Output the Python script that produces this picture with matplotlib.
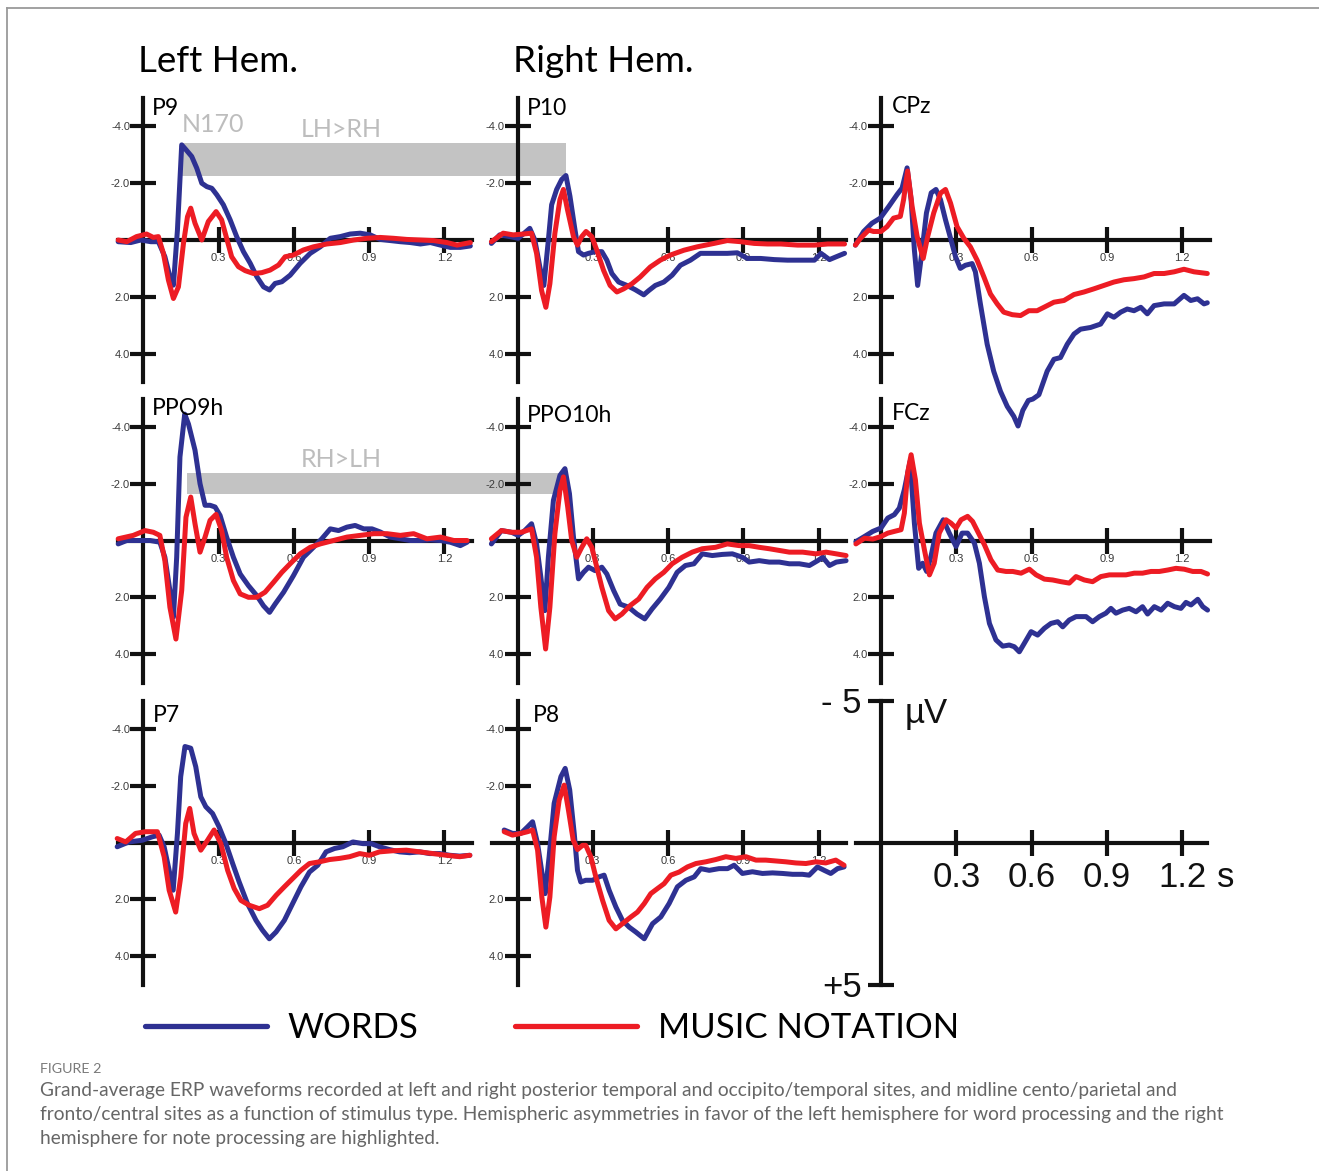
import numpy as np
import matplotlib.pyplot as plt
from matplotlib.patches import Rectangle
from matplotlib.lines import Line2D

# grand-average ERPs, (time s, amplitude uV) -- negative plotted upward
p9_words = [(-0.10, 0.06), (-0.05, 0.09), (-0.01, 0.0), (0.03, 0.06), (0.06, 0.06), (0.086, 0.59), (0.106, 1.29),
            (0.12, 1.59), (0.136, -0.35), (0.153, -3.35), (0.17, -3.18), (0.193, -2.94), (0.213, -2.53), (0.233, -2.0),
            (0.253, -1.88), (0.273, -1.82), (0.293, -1.59), (0.319, -1.24), (0.346, -0.71), (0.372, -0.12), (0.399, 0.41),
            (0.426, 0.82), (0.452, 1.29), (0.479, 1.65), (0.503, 1.76), (0.525, 1.53), (0.552, 1.47), (0.585, 1.24),
            (0.625, 0.82), (0.665, 0.47), (0.705, 0.24), (0.745, -0.06), (0.785, -0.12), (0.824, -0.21), (0.864, -0.24),
            (0.904, -0.18), (0.944, -0.02), (0.984, 0.02), (1.024, 0.06), (1.064, 0.09), (1.104, 0.14), (1.144, 0.09),
            (1.184, 0.18), (1.223, 0.26), (1.263, 0.26), (1.303, 0.21)]
p9_music = [(-0.10, 0.0), (-0.066, 0.06), (-0.027, -0.12), (0.013, -0.21), (0.04, -0.09), (0.06, -0.12), (0.08, 0.47),
            (0.10, 1.41), (0.12, 2.06), (0.14, 1.65), (0.16, 0.12), (0.176, -0.82), (0.189, -1.12), (0.206, -0.59),
            (0.233, 0.0), (0.259, -0.65), (0.29, -1.0), (0.312, -0.71), (0.332, -0.06), (0.352, 0.59), (0.379, 0.94),
            (0.406, 1.08), (0.439, 1.18), (0.472, 1.15), (0.505, 1.06), (0.539, 0.88), (0.565, 0.59), (0.598, 0.53),
            (0.638, 0.35), (0.678, 0.24), (0.731, 0.14), (0.785, 0.09), (0.838, 0.0), (0.891, -0.06), (0.944, -0.09),
            (0.997, -0.06), (1.05, -0.02), (1.104, 0.0), (1.157, 0.02), (1.21, 0.09), (1.25, 0.18), (1.303, 0.09)]

p10_words = [(-0.104, 0.12), (-0.071, -0.18), (-0.031, -0.12), (0.003, -0.06), (0.049, -0.41), (0.069, 0.0),
             (0.089, 0.95), (0.105, 1.6), (0.123, 0.0), (0.136, -1.24), (0.156, -1.78), (0.176, -2.13), (0.193, -2.27),
             (0.209, -1.54), (0.229, -0.36), (0.243, 0.41), (0.263, 0.53), (0.283, 0.47), (0.309, 0.41), (0.336, 0.41),
             (0.356, 0.71), (0.376, 1.18), (0.403, 1.48), (0.436, 1.6), (0.469, 1.75), (0.503, 1.93), (0.523, 1.78),
             (0.549, 1.6), (0.583, 1.48), (0.616, 1.24), (0.649, 0.89), (0.689, 0.71), (0.729, 0.47), (0.783, 0.47),
             (0.836, 0.47), (0.876, 0.45), (0.916, 0.65), (0.969, 0.65), (1.023, 0.69), (1.076, 0.71), (1.129, 0.71),
             (1.183, 0.71), (1.209, 0.47), (1.243, 0.69), (1.27, 0.59), (1.303, 0.47)]
p10_music = [(-0.104, 0.06), (-0.057, -0.24), (-0.017, -0.18), (0.023, -0.21), (0.056, -0.24), (0.076, 0.47),
             (0.096, 1.78), (0.113, 2.37), (0.129, 1.54), (0.149, -0.24), (0.169, -1.42), (0.183, -1.78), (0.199, -1.07),
             (0.223, -0.12), (0.239, 0.18), (0.256, -0.12), (0.273, -0.3), (0.296, -0.12), (0.316, 0.36), (0.343, 1.07),
             (0.369, 1.6), (0.396, 1.83), (0.423, 1.72), (0.456, 1.54), (0.489, 1.3), (0.529, 0.95), (0.569, 0.71),
             (0.609, 0.53), (0.663, 0.36), (0.716, 0.24), (0.783, 0.12), (0.836, 0.02), (0.889, 0.06), (0.943, 0.12),
             (0.996, 0.14), (1.049, 0.14), (1.116, 0.18), (1.183, 0.18), (1.236, 0.14), (1.303, 0.14)]

cpz_words = [(-0.102, 0.18), (-0.069, -0.3), (-0.036, -0.59), (-0.003, -0.77), (0.031, -1.18), (0.064, -1.6),
             (0.084, -1.83), (0.104, -2.54), (0.12, -1.42), (0.133, 0.35), (0.146, 1.6), (0.164, 0.35), (0.181, -0.95),
             (0.2, -1.66), (0.219, -1.78), (0.237, -1.42), (0.257, -0.71), (0.279, 0.0), (0.297, 0.59), (0.316, 1.0),
             (0.336, 0.89), (0.363, 0.83), (0.376, 1.12), (0.396, 2.25), (0.423, 3.67), (0.449, 4.62), (0.476, 5.33),
             (0.503, 5.86), (0.529, 6.21), (0.546, 6.55), (0.565, 6.0), (0.587, 5.65), (0.605, 5.6), (0.629, 5.45),
             (0.662, 4.62), (0.689, 4.2), (0.715, 4.14), (0.742, 3.67), (0.769, 3.31), (0.795, 3.14), (0.835, 3.08),
             (0.875, 2.96), (0.902, 2.6), (0.928, 2.72), (0.955, 2.54), (0.981, 2.43), (1.008, 2.49), (1.035, 2.37),
             (1.061, 2.6), (1.088, 2.31), (1.128, 2.25), (1.168, 2.25), (1.207, 1.95), (1.234, 2.13), (1.261, 2.07),
             (1.287, 2.25), (1.30, 2.21)]
cpz_music = [(-0.102, 0.18), (-0.082, -0.06), (-0.049, -0.35), (-0.03, -0.3), (0.0, -0.3), (0.024, -0.47), (0.05, -0.77),
             (0.077, -0.83), (0.09, -1.42), (0.106, -2.43), (0.124, -1.18), (0.144, -0.12), (0.168, 0.65), (0.186, -0.12),
             (0.21, -0.95), (0.237, -1.65), (0.257, -1.78), (0.277, -1.3), (0.303, -0.47), (0.33, -0.06), (0.356, 0.24),
             (0.383, 0.71), (0.41, 1.3), (0.436, 1.9), (0.463, 2.25), (0.489, 2.54), (0.523, 2.63), (0.556, 2.66),
             (0.589, 2.49), (0.622, 2.49), (0.649, 2.37), (0.689, 2.19), (0.729, 2.13), (0.769, 1.92), (0.809, 1.83),
             (0.848, 1.72), (0.888, 1.6), (0.928, 1.48), (0.968, 1.4), (1.008, 1.36), (1.048, 1.3), (1.088, 1.18),
             (1.128, 1.18), (1.168, 1.12), (1.207, 1.03), (1.247, 1.12), (1.30, 1.18)]

ppo9h_words = [(-0.10, 0.12), (-0.066, 0.0), (-0.027, 0.0), (0.027, 0.0), (0.066, 0.06), (0.086, 0.59), (0.106, 1.76),
               (0.12, 2.7), (0.133, 0.59), (0.146, -2.94), (0.165, -4.45), (0.18, -4.1), (0.206, -3.18), (0.226, -2.0),
               (0.246, -1.24), (0.266, -1.24), (0.286, -1.18), (0.306, -0.88), (0.332, -0.12), (0.359, 0.59),
               (0.386, 1.18), (0.419, 1.59), (0.452, 1.94), (0.479, 2.3), (0.503, 2.53), (0.525, 2.24), (0.559, 1.82),
               (0.598, 1.24), (0.638, 0.59), (0.678, 0.24), (0.711, -0.06), (0.745, -0.41), (0.778, -0.35),
               (0.811, -0.47), (0.844, -0.53), (0.878, -0.41), (0.911, -0.41), (0.944, -0.3), (0.984, -0.12),
               (1.024, -0.06), (1.064, 0.0), (1.104, 0.0), (1.144, -0.02), (1.184, 0.0), (1.223, 0.06), (1.263, 0.18),
               (1.29, 0.06)]
ppo9h_music = [(-0.10, -0.06), (-0.04, -0.18), (0.007, -0.35), (0.04, -0.29), (0.066, -0.18), (0.086, 0.71),
               (0.106, 2.35), (0.13, 3.47), (0.153, 1.76), (0.17, -0.82), (0.189, -1.53), (0.206, -0.59), (0.226, 0.41),
               (0.246, -0.12), (0.266, -0.71), (0.29, -0.92), (0.312, -0.35), (0.332, 0.59), (0.359, 1.41),
               (0.386, 1.88), (0.419, 2.0), (0.452, 2.0), (0.485, 1.82), (0.519, 1.47), (0.552, 1.12), (0.585, 0.82),
               (0.625, 0.47), (0.665, 0.24), (0.705, 0.12), (0.758, 0.0), (0.811, -0.12), (0.864, -0.18),
               (0.918, -0.24), (0.971, -0.24), (1.024, -0.18), (1.077, -0.24), (1.13, -0.06), (1.184, -0.12),
               (1.237, 0.0), (1.29, 0.0)]

ppo10h_words = [(-0.104, 0.12), (-0.064, -0.35), (-0.024, -0.29), (0.003, -0.18), (0.029, -0.35), (0.056, -0.59),
                (0.076, 0.12), (0.093, 1.29), (0.109, 2.47), (0.123, 0.59), (0.143, -1.41), (0.169, -2.29),
                (0.189, -2.53), (0.207, -1.65), (0.223, -0.12), (0.243, 1.35), (0.263, 1.12), (0.283, 0.94),
                (0.309, 1.06), (0.336, 0.94), (0.356, 1.18), (0.383, 1.76), (0.409, 2.24), (0.443, 2.35), (0.476, 2.59),
                (0.507, 2.76), (0.536, 2.41), (0.569, 2.06), (0.603, 1.65), (0.636, 1.12), (0.669, 0.88), (0.703, 0.82),
                (0.736, 0.47), (0.776, 0.53), (0.816, 0.49), (0.856, 0.47), (0.896, 0.59), (0.923, 0.76), (0.963, 0.71),
                (1.003, 0.76), (1.043, 0.76), (1.083, 0.82), (1.123, 0.82), (1.163, 0.88), (1.196, 0.71), (1.216, 0.59),
                (1.243, 0.88), (1.27, 0.76), (1.309, 0.71)]
ppo10h_music = [(-0.104, -0.06), (-0.064, -0.35), (-0.024, -0.29), (0.016, -0.29), (0.056, -0.41), (0.076, 0.59),
                (0.093, 2.35), (0.112, 3.82), (0.129, 2.35), (0.149, -0.24), (0.169, -1.76), (0.183, -2.24),
                (0.20, -1.18), (0.216, 0.0), (0.236, 0.59), (0.256, 0.24), (0.276, -0.06), (0.296, 0.24), (0.316, 0.94),
                (0.336, 1.65), (0.363, 2.47), (0.389, 2.76), (0.416, 2.59), (0.449, 2.29), (0.483, 2.06), (0.516, 1.65),
                (0.549, 1.35), (0.583, 1.12), (0.616, 0.82), (0.656, 0.59), (0.696, 0.41), (0.736, 0.29), (0.789, 0.24),
                (0.836, 0.12), (0.883, 0.18), (0.923, 0.18), (0.963, 0.24), (1.003, 0.29), (1.043, 0.35), (1.083, 0.41),
                (1.136, 0.41), (1.189, 0.47), (1.229, 0.41), (1.27, 0.47), (1.309, 0.53)]

fcz_words = [(-0.10, 0.04), (-0.066, -0.14), (-0.033, -0.32), (0.0, -0.44), (0.027, -0.79), (0.053, -0.91),
             (0.073, -1.14), (0.093, -1.79), (0.116, -2.79), (0.133, -0.61), (0.15, 0.98), (0.166, 0.8), (0.182, 1.09),
             (0.199, 0.56), (0.219, -0.26), (0.248, -0.73), (0.272, -0.26), (0.299, 0.21), (0.323, -0.26),
             (0.345, -0.26), (0.372, 0.09), (0.392, 0.8), (0.412, 1.98), (0.432, 2.92), (0.458, 3.5), (0.485, 3.72),
             (0.511, 3.68), (0.531, 3.74), (0.551, 3.92), (0.571, 3.62), (0.598, 3.21), (0.624, 3.33), (0.651, 3.09),
             (0.677, 2.92), (0.704, 2.86), (0.724, 3.04), (0.75, 2.8), (0.777, 2.68), (0.817, 2.68), (0.843, 2.86),
             (0.87, 2.68), (0.896, 2.56), (0.916, 2.39), (0.936, 2.56), (0.963, 2.45), (0.989, 2.39), (1.016, 2.51),
             (1.042, 2.33), (1.062, 2.59), (1.089, 2.33), (1.116, 2.45), (1.142, 2.21), (1.169, 2.33), (1.195, 2.39),
             (1.215, 2.18), (1.235, 2.27), (1.262, 2.07), (1.282, 2.33), (1.301, 2.45)]
fcz_music = [(-0.10, 0.12), (-0.066, -0.08), (-0.033, -0.05), (0.0, -0.14), (0.027, -0.26), (0.053, -0.32),
             (0.08, -0.38), (0.093, -0.96), (0.106, -2.38), (0.12, -3.02), (0.137, -2.14), (0.153, -0.61),
             (0.173, 0.33), (0.193, 1.21), (0.212, 0.8), (0.232, -0.26), (0.259, -0.73), (0.279, -0.61),
             (0.299, -0.44), (0.319, -0.73), (0.345, -0.85), (0.365, -0.67), (0.385, -0.32), (0.412, 0.15),
             (0.438, 0.68), (0.465, 1.04), (0.498, 1.09), (0.525, 1.09), (0.558, 1.15), (0.591, 1.01), (0.618, 1.21),
             (0.651, 1.36), (0.684, 1.39), (0.717, 1.45), (0.75, 1.5), (0.777, 1.27), (0.81, 1.39), (0.843, 1.45),
             (0.876, 1.27), (0.91, 1.21), (0.943, 1.21), (0.976, 1.21), (1.009, 1.15), (1.042, 1.15), (1.076, 1.09),
             (1.109, 1.09), (1.142, 1.04), (1.175, 0.98), (1.208, 1.01), (1.242, 1.09), (1.275, 1.09), (1.301, 1.18)]

p7_words = [(-0.104, 0.15), (-0.057, -0.02), (-0.004, -0.08), (0.036, -0.2), (0.063, -0.26), (0.083, 0.15),
            (0.103, 0.98), (0.119, 1.68), (0.136, -0.32), (0.149, -2.32), (0.166, -3.38), (0.189, -3.32),
            (0.209, -2.67), (0.229, -1.61), (0.249, -1.26), (0.276, -1.02), (0.302, -0.55), (0.329, 0.04),
            (0.356, 0.74), (0.382, 1.39), (0.415, 2.15), (0.449, 2.74), (0.475, 3.09), (0.502, 3.39), (0.529, 3.15),
            (0.562, 2.74), (0.595, 2.15), (0.628, 1.56), (0.662, 1.04), (0.695, 0.8), (0.728, 0.33), (0.762, 0.21),
            (0.795, 0.15), (0.835, -0.02), (0.875, 0.04), (0.908, 0.04), (0.941, 0.15), (0.981, 0.25), (1.021, 0.33),
            (1.061, 0.36), (1.101, 0.33), (1.141, 0.39), (1.181, 0.39), (1.221, 0.45), (1.261, 0.48), (1.301, 0.45)]
p7_music = [(-0.104, -0.14), (-0.07, -0.02), (-0.031, -0.32), (0.009, -0.38), (0.056, -0.38), (0.083, 0.5),
            (0.103, 1.68), (0.129, 2.45), (0.149, 1.22), (0.169, -0.67), (0.185, -1.2), (0.202, -0.32), (0.229, 0.27),
            (0.256, -0.08), (0.282, -0.44), (0.309, 0.04), (0.336, 0.98), (0.362, 1.62), (0.389, 2.04), (0.422, 2.21),
            (0.462, 2.33), (0.495, 2.21), (0.529, 1.86), (0.562, 1.56), (0.595, 1.27), (0.628, 0.98), (0.662, 0.74),
            (0.702, 0.68), (0.742, 0.6), (0.782, 0.56), (0.822, 0.5), (0.862, 0.39), (0.901, 0.45), (0.941, 0.33),
            (0.995, 0.29), (1.048, 0.27), (1.101, 0.33), (1.154, 0.39), (1.208, 0.45), (1.261, 0.5), (1.301, 0.45)]

p8_words = [(-0.053, -0.44), (-0.02, -0.32), (0.013, -0.32), (0.04, -0.55), (0.06, -0.73), (0.08, 0.04), (0.10, 1.22),
            (0.11, 1.8), (0.126, 0.5), (0.146, -1.38), (0.173, -2.32), (0.19, -2.61), (0.208, -1.85), (0.226, -0.32),
            (0.239, 0.98), (0.252, 1.39), (0.272, 1.33), (0.299, 1.33), (0.325, 1.21), (0.345, 1.15), (0.365, 1.68),
            (0.392, 2.27), (0.418, 2.74), (0.445, 2.98), (0.471, 3.15), (0.505, 3.39), (0.538, 2.86), (0.571, 2.62),
            (0.604, 2.15), (0.637, 1.56), (0.671, 1.33), (0.704, 1.21), (0.73, 0.92), (0.764, 0.98), (0.803, 0.92),
            (0.837, 0.92), (0.863, 0.8), (0.896, 1.09), (0.936, 1.03), (0.976, 1.09), (1.016, 1.07), (1.056, 1.09),
            (1.096, 1.12), (1.135, 1.12), (1.162, 1.15), (1.195, 0.86), (1.222, 0.98), (1.248, 1.09), (1.275, 0.92),
            (1.301, 0.86)]
p8_music = [(-0.053, -0.38), (-0.02, -0.26), (0.013, -0.32), (0.04, -0.38), (0.06, -0.44), (0.08, 0.27), (0.097, 1.92),
            (0.113, 2.98), (0.129, 1.92), (0.146, -0.2), (0.166, -1.49), (0.186, -2.02), (0.203, -1.14), (0.222, -0.08),
            (0.239, 0.25), (0.259, 0.1), (0.272, 0.1), (0.292, 0.5), (0.312, 1.21), (0.339, 2.04), (0.365, 2.74),
            (0.392, 3.04), (0.418, 2.86), (0.452, 2.62), (0.478, 2.45), (0.505, 2.15), (0.531, 1.8), (0.558, 1.62),
            (0.584, 1.45), (0.611, 1.15), (0.644, 1.04), (0.677, 0.86), (0.711, 0.74), (0.75, 0.68), (0.79, 0.6),
            (0.83, 0.5), (0.87, 0.56), (0.91, 0.5), (0.95, 0.62), (0.989, 0.62), (1.029, 0.65), (1.069, 0.68),
            (1.109, 0.72), (1.149, 0.74), (1.189, 0.68), (1.228, 0.72), (1.268, 0.62), (1.301, 0.8)]

sites = ['P9', 'P10', 'CPz', 'PPO9h', 'PPO10h', 'FCz', 'P7', 'P8']
words = [p9_words, p10_words, cpz_words, ppo9h_words, ppo10h_words, fcz_words, p7_words, p8_words]
music = [p9_music, p10_music, cpz_music, ppo9h_music, ppo10h_music, fcz_music, p7_music, p8_music]

x_ticks = [0.3, 0.6, 0.9, 1.2]
x_tick_labels = ['0.3', '0.6', '0.9', '1.2']
y_ticks = [-4, -2, 2, 4]
y_tick_labels = ['-4.0', '-2.0', '2.0', '4.0']

# significant hemispheric-difference windows (t start, t end in P9/PPO9h frame, uV top, uV bottom)
lh_window = (0.155, 1.685, -3.42, -2.25)
rh_window = (0.175, 1.66, -2.37, -1.64)

WORDS_COLOR = '#2e3192'
MUSIC_COLOR = '#ed1c24'

W, H = 1319, 1171
PX_S = 251.0    # pixels per second
PX_UV = 28.4    # pixels per microvolt
T_LO, T_HI = -0.13, 1.37

plt.rcParams['font.family'] = ['Liberation Sans', 'DejaVu Sans']
fig = plt.figure(figsize=(W / 100, H / 100), dpi=100)

col_x = [143.3, 517.5, 881.0]
row_y = [240.0, 540.5, 842.5]
grid = [(0, 0), (0, 1), (0, 2), (1, 0), (1, 1), (1, 2), (2, 0), (2, 1)]
title_pos = [(0.034, -4.4), (0.037, -4.4), (0.043, -4.46), (0.033, -4.42),
             (0.037, -4.18), (0.043, -4.24), (0.04, -4.25), (0.062, -4.25)]


def erp_axes(x0, y0):
    left = (x0 + T_LO * PX_S) / W
    width = (T_HI - T_LO) * PX_S / W
    bottom = 1 - (y0 + 5 * PX_UV) / H
    height = 10 * PX_UV / H
    ax = fig.add_axes([left, bottom, width, height])
    ax.set_xlim(T_LO, T_HI)
    ax.set_ylim(5, -5)
    ax.patch.set_alpha(0)
    ax.spines['top'].set_visible(False)
    ax.spines['right'].set_visible(False)
    ax.spines['left'].set_position(('data', 0))
    ax.spines['bottom'].set_position(('data', 0))
    ax.spines['left'].set_bounds(-5, 5)
    ax.spines['bottom'].set_bounds(-0.1, 1.31)
    for s in ('left', 'bottom'):
        ax.spines[s].set_linewidth(3)
        ax.spines[s].set_color('#111111')
    ax.tick_params(direction='inout', length=19, width=3, color='#111111', pad=0)
    return ax


axes = []
for k, site in enumerate(sites):
    r, c = grid[k]
    ax = erp_axes(col_x[c], row_y[r])
    ax.set_xticks(x_ticks, labels=x_tick_labels)
    ax.set_yticks(y_ticks, labels=y_tick_labels)
    ax.tick_params(labelsize=8, labelcolor='#3a3a3a')
    tw, vw = zip(*words[k])
    tm, vm = zip(*music[k])
    ax.plot(tw, vw, color=WORDS_COLOR, lw=3.6, zorder=3, clip_on=False,
            solid_capstyle='round', solid_joinstyle='round')
    ax.plot(tm, vm, color=MUSIC_COLOR, lw=3.6, zorder=3, clip_on=False,
            solid_capstyle='round', solid_joinstyle='round')
    ax.text(*title_pos[k], site, family='Lato', fontsize=16.5, va='baseline', ha='left', color='black', zorder=4)
    axes.append(ax)

# highlighted asymmetry windows, spanning into the right-hemisphere panels
ax9, ax_ppo9 = axes[0], axes[3]
t0, t1, v0, v1 = lh_window
ax9.add_patch(Rectangle((t0, v0), t1 - t0, v1 - v0, color='#c3c3c3', lw=0, zorder=1, clip_on=False))
t0, t1, v0, v1 = rh_window
ax_ppo9.add_patch(Rectangle((t0, v0), t1 - t0, v1 - v0, color='#c3c3c3', lw=0, zorder=1, clip_on=False))
ax9.text(0.155, -3.8, 'N170', family='Lato', fontsize=18, color='#bdbdbd', va='baseline', ha='left')
ax9.text(0.789, -3.64, 'LH>RH', family='Lato', fontsize=18, color='#bdbdbd', va='baseline', ha='center')
ax_ppo9.text(0.789, -2.59, 'RH>LH', family='Lato', fontsize=18, color='#bdbdbd', va='baseline', ha='center')

# calibration axes
sc = erp_axes(881.0, 842.5)
sc.spines['bottom'].set_bounds(-0.1, 1.3)
sc.set_yticks([-5, 5], labels=[])
sc.set_xticks(x_ticks, labels=x_tick_labels)
sc.tick_params(axis='x', labelsize=25, labelcolor='#111111', pad=4)
sc.text(-0.076, -4.56, '- 5', fontsize=25, ha='right', va='baseline', color='#111111')
sc.text(-0.076, 5.44, '+5', fontsize=25, ha='right', va='baseline', color='#111111')
sc.text(0.096, -4.21, 'µV', fontsize=25, ha='left', va='baseline', color='#111111')
sc.text(1.339, 1.567, 's', fontsize=25, ha='left', va='baseline', color='#111111')

fig.text(138 / W, 1 - 72 / H, 'Left Hem.', family='Lato', fontsize=26.5, va='baseline')
fig.text(513 / W, 1 - 72 / H, 'Right Hem.', family='Lato', fontsize=26.5, va='baseline')

leg = fig.legend(axes[0].get_lines(), ['WORDS', 'MUSIC NOTATION'], ncol=2, frameon=False,
                 loc='center left', bbox_to_anchor=(145 / W, 1 - 1028 / H), borderpad=0, borderaxespad=0,
                 prop={'family': 'Lato', 'size': 25}, handlelength=3.5, handletextpad=0.6, columnspacing=2.8)
for ln in leg.get_lines():
    ln.set_linewidth(3.8)

fig.text(40 / W, 1 - 1073 / H, 'FIGURE 2', family='Lato', fontsize=10.3, color='#7a7a7a', va='baseline')
caption = [
    'Grand-average ERP waveforms recorded at left and right posterior temporal and occipito/temporal sites, and midline cento/parietal and',
    'fronto/central sites as a function of stimulus type. Hemispheric asymmetries in favor of the left hemisphere for word processing and the right',
    'hemisphere for note processing are highlighted.',
]
for i, line in enumerate(caption):
    fig.text(40 / W, 1 - (1096 + 24 * i) / H, line, family='Lato', fontsize=13.8, color='#666666', va='baseline')

# page frame
fig.add_artist(Line2D([7 / W, 7 / W], [0, 1 - 8 / H], transform=fig.transFigure, color='#9a9a9a', lw=1.3))
fig.add_artist(Line2D([7 / W, 1], [1 - 8 / H, 1 - 8 / H], transform=fig.transFigure, color='#9a9a9a', lw=1.3))

fig.savefig('out.png', dpi=100)
